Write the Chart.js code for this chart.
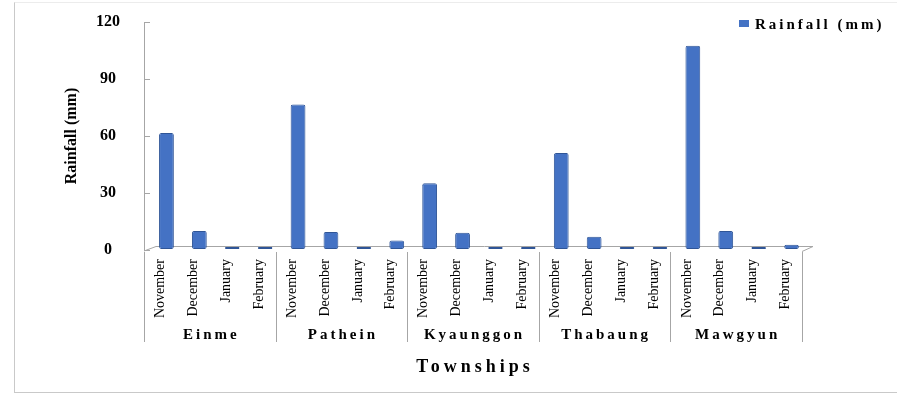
<!DOCTYPE html>
<html>
<head>
<meta charset="utf-8">
<script src="https://cdn.jsdelivr.net/npm/chart.js@4.4.1/dist/chart.umd.min.js"></script>
<style>
    html, body {
        margin: 0;
        padding: 0;
        background: #ffffff;
    }

    #wrap {
        position: relative;
        width: 897px;
        height: 393px;
        overflow: hidden;
    }

    #frame {
        position: absolute;
        left: 14px;
        top: 2px;
        width: 890px;
        height: 389px;
        border-left: 1px solid #c9c9c9;
        border-top: 1px solid #ececec;
        border-bottom: 1px solid #c9c9c9;
        pointer-events: none;
    }

    #legenda {
        position: absolute;
        left: 739px;
        top: 16px;
        font: bold 15px "Liberation Serif", serif;
        letter-spacing: 3px;
        color: #000;
        white-space: nowrap;
    }

    #legenda span {
        display: inline-block;
        width: 10px;
        height: 7px;
        margin-right: 6px;
        vertical-align: 2px;
    }
</style>
</head>
<body>
<div id="wrap">
    <canvas id="graficoChuva" width="897" height="393"></canvas>
    <div id="frame"></div>
    <div id="legenda"></div>
</div>

<script>
const municipios = ["Einme", "Pathein", "Kyaunggon", "Thabaung", "Mawgyun"];
const meses = ["November", "December", "January", "February"];

// rainfall per township, Nov..Feb
const chuvaEinme = [61, 9.5, 0, 0];
const chuvaPathein = [76, 9, 0, 4.5];
const chuvaKyaunggon = [34.6, 8.5, 0, 0];
const chuvaThabaung = [50.5, 6.5, 0, 1];
const chuvaMawgyun = [107, 9.5, 0, 2.3];

const ticksY = [0, 30, 60, 90, 120];

const corBarra = "#4472c4";
const corLinha = "#a6a6a6";

const rotulos = [];
municipios.forEach(() => meses.forEach(m => rotulos.push(m)));

const valores = [].concat(chuvaEinme, chuvaPathein, chuvaKyaunggon, chuvaThabaung, chuvaMawgyun);

// floor, inner ticks, group labels
const pisoPlugin = {
    id: "piso",
    beforeDatasetsDraw(chart) {
        const ctx = chart.ctx;
        const area = chart.chartArea;
        const y = chart.scales.y;

        ctx.save();
        ctx.strokeStyle = corLinha;
        ctx.lineWidth = 1;

        ctx.beginPath();
        ctx.moveTo(area.left, area.bottom + 1);
        ctx.lineTo(area.left + 12, area.bottom - 3.5);
        ctx.lineTo(area.right + 11, area.bottom - 3.5);
        ctx.lineTo(area.right, area.bottom + 1.5);
        ctx.stroke();

        ticksY.forEach(v => {
            const py = Math.round(y.getPixelForValue(v)) + 0.5;
            ctx.beginPath();
            ctx.moveTo(area.left, py);
            ctx.lineTo(area.left + 6, py);
            ctx.stroke();
        });
        ctx.restore();

        // bars sit a little back on the floor
        ctx.save();
        ctx.translate(6, -1);
    },
    afterDatasetsDraw(chart) {
        chart.ctx.restore();
    },
    afterDraw(chart) {
        const ctx = chart.ctx;
        const x = chart.scales.x;
        const area = chart.chartArea;
        const passo = (area.right - area.left) / rotulos.length;

        ctx.save();
        ctx.strokeStyle = corLinha;
        ctx.lineWidth = 1;

        for (let g = 0; g <= municipios.length; g++) {
            const px = Math.round(x.getPixelForValue(g * meses.length) - passo / 2) + 0.5;
            ctx.beginPath();
            ctx.moveTo(px, area.bottom + 2);
            ctx.lineTo(px, 342);
            ctx.stroke();
        }

        ctx.fillStyle = "#000";
        ctx.textAlign = "center";
        ctx.textBaseline = "middle";
        ctx.font = "bold 15px 'Liberation Serif'";
        ctx.letterSpacing = "3px";

        municipios.forEach((nome, g) => {
            const ini = x.getPixelForValue(g * meses.length);
            const fim = x.getPixelForValue(g * meses.length + meses.length - 1);
            ctx.fillText(nome, (ini + fim) / 2 + 1.5, 335);
        });

        ctx.font = "bold 18px 'Liberation Serif'";
        ctx.letterSpacing = "4px";
        ctx.fillText("Townships", (area.left + area.right) / 2 + 2, 367);
        ctx.restore();
    }
};

const grafico = new Chart(document.getElementById("graficoChuva"), {
    type: "bar",
    data: {
        labels: rotulos,
        datasets: [{
            label: "Rainfall (mm)",
            data: valores,
            backgroundColor: corBarra,
            borderColor: "#2f5597",
            borderWidth: 1,
            borderRadius: 2,
            borderSkipped: false,
            minBarLength: 2,
            categoryPercentage: 1,
            barPercentage: 0.45
        }]
    },
    options: {
        responsive: false,
        animation: false,
        layout: {
            padding: { top: 22, right: 95, left: 0, bottom: 0 }
        },
        plugins: {
            legend: { display: false },
            tooltip: { enabled: false }
        },
        scales: {
            x: {
                afterFit(s) { s.height = 143; },
                grid: { display: false, drawTicks: false },
                border: { display: false },
                ticks: {
                    autoSkip: false,
                    minRotation: 90,
                    maxRotation: 90,
                    padding: 9,
                    color: "#000",
                    font: { family: "Liberation Serif", size: 14 }
                }
            },
            y: {
                min: 0,
                max: 120,
                afterFit(s) {
                    s.width = 144;
                    // tick padding is horizontal here, keep it out of the top/bottom margins
                    s.paddingTop = 0;
                    s.paddingBottom = 0;
                },
                afterBuildTicks(s) { s.ticks = ticksY.map(v => ({ value: v })); },
                grid: { display: false, drawTicks: false },
                border: { display: true, color: corLinha, width: 1 },
                ticks: {
                    crossAlign: "center",
                    padding: 24,
                    color: "#000",
                    font: { family: "Liberation Serif", size: 16, weight: "bold" }
                },
                title: {
                    display: true,
                    text: "Rainfall (mm)",
                    color: "#000",
                    padding: { top: 62, bottom: 0 },
                    font: { family: "Liberation Serif", size: 16, weight: "bold" }
                }
            }
        }
    },
    plugins: [pisoPlugin]
});

// legend built from the dataset
const ds = grafico.data.datasets[0];
document.getElementById("legenda").innerHTML =
    '<span style="background:' + ds.backgroundColor + '"></span>' + ds.label;
</script>
</body>
</html>
